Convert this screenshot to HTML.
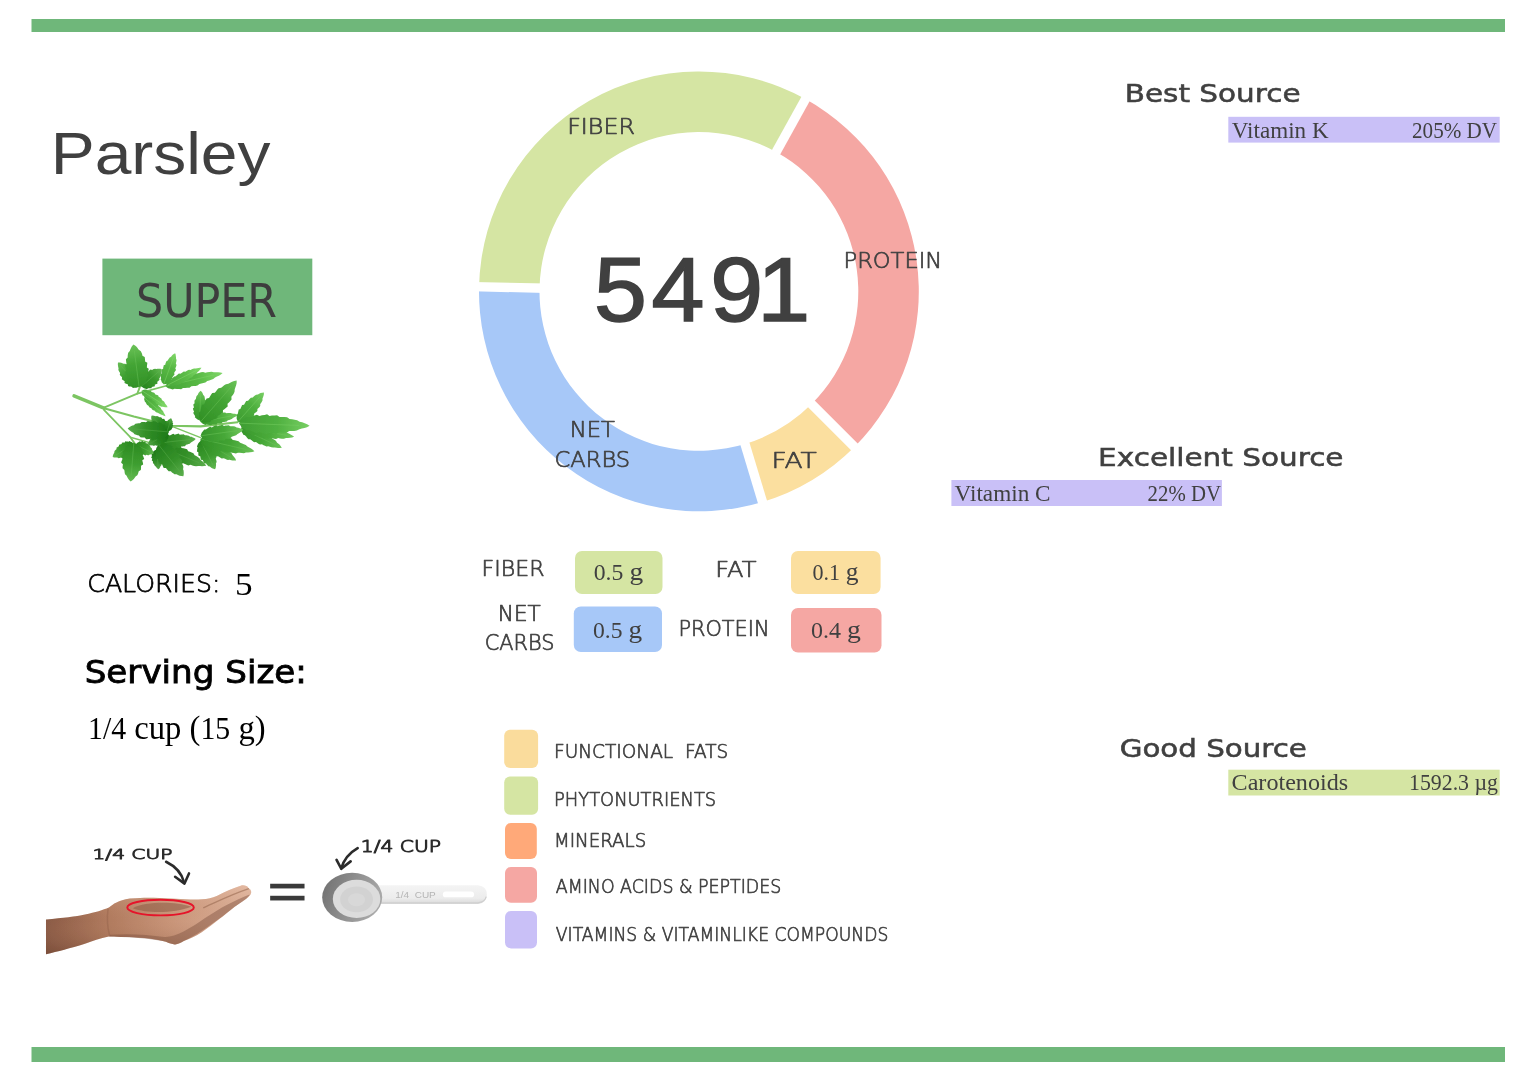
<!DOCTYPE html>
<html lang="en"><head><meta charset="utf-8"><title>Parsley</title>
<style>
html,body{margin:0;padding:0;background:#fff;}
body{width:1536px;height:1081px;overflow:hidden;position:relative;}
svg{position:absolute;left:0;top:0;display:block;}
</style></head><body>
<svg width="1536" height="1081" viewBox="0 0 1536 1081">
<defs>
<filter id="leaf" x="55" y="330" width="280" height="170" filterUnits="userSpaceOnUse"><feGaussianBlur stdDeviation="0.45"/></filter>
<filter id="soft" x="30" y="820" width="480" height="150" filterUnits="userSpaceOnUse"><feGaussianBlur stdDeviation="0.6"/></filter>
<linearGradient id="skinv" x1="0" y1="0" x2="0" y2="1"><stop offset="0" stop-color="#f0c8b0" stop-opacity="0.35"/><stop offset="0.5" stop-color="#c08a6a" stop-opacity="0"/><stop offset="1" stop-color="#5a3424" stop-opacity="0.35"/></linearGradient>
<linearGradient id="skin" x1="0" y1="0" x2="1" y2="0">
<stop offset="0" stop-color="#8a5a45"/><stop offset="0.3" stop-color="#b07a5e"/><stop offset="0.6" stop-color="#c89478"/><stop offset="1" stop-color="#ddb29b"/>
</linearGradient>
<linearGradient id="handle" x1="0" y1="0" x2="0" y2="1">
<stop offset="0" stop-color="#f4f4f4"/><stop offset="0.7" stop-color="#ececec"/><stop offset="1" stop-color="#d8d8d8"/>
</linearGradient>
<linearGradient id="cupo" x1="0" y1="0" x2="1" y2="0.3">
<stop offset="0" stop-color="#6e6e6e"/><stop offset="0.5" stop-color="#8c8c8c"/><stop offset="1" stop-color="#a8a8a8"/>
</linearGradient>
</defs>
<rect width="1536" height="1081" fill="#fff"/>
<rect x="31.5" y="19" width="1473.5" height="13.0" fill="#6FB77A" rx="0"/>
<rect x="31.5" y="1047" width="1473.5" height="15.0" fill="#6FB77A" rx="0"/>
<rect x="102.4" y="258.6" width="209.9" height="76.6" fill="#6FB77A" rx="0"/>
<rect x="575" y="551" width="87.5" height="43.0" fill="#D5E5A3" rx="7"/>
<rect x="573.8" y="606.5" width="88.2" height="45.5" fill="#A7C8F8" rx="7"/>
<rect x="791" y="551" width="89.6" height="43.0" fill="#FBDF9F" rx="7"/>
<rect x="791" y="608" width="90.5" height="44.5" fill="#F5A7A3" rx="7"/>
<rect x="504.2" y="729.7" width="33.9" height="38.3" fill="#FADC9C" rx="6"/>
<rect x="504.2" y="776.4" width="33.9" height="38.3" fill="#D5E5A3" rx="6"/>
<rect x="505" y="823" width="31.8" height="36.0" fill="#FFA979" rx="6"/>
<rect x="505" y="867" width="32.0" height="35.8" fill="#F5A7A3" rx="6"/>
<rect x="505" y="911" width="32.0" height="37.4" fill="#C9C0F7" rx="6"/>
<rect x="1228.3" y="116.8" width="271.4" height="25.8" fill="#C9C0F7" rx="0"/>
<rect x="951.4" y="480" width="270.5" height="26.0" fill="#C9C0F7" rx="0"/>
<rect x="1228.3" y="769.7" width="271.4" height="25.8" fill="#D5E5A3" rx="0"/>
<path d="M805.51,99.07 A219.9,219.9 0 0 1 854.39,446.89 L811.61,404.11 A159.4,159.4 0 0 0 776.18,151.99 Z" fill="#F5A7A3"/>
<path d="M854.39,446.89 A219.9,219.9 0 0 1 762.46,501.91 L744.97,444.00 A159.4,159.4 0 0 0 811.61,404.11 Z" fill="#FBDF9F"/>
<path d="M762.46,501.91 A219.9,219.9 0 0 1 479.05,286.79 L539.53,288.06 A159.4,159.4 0 0 0 744.97,444.00 Z" fill="#A7C8F8"/>
<path d="M479.05,286.79 A219.9,219.9 0 0 1 805.51,99.07 L776.18,151.99 A159.4,159.4 0 0 0 539.53,288.06 Z" fill="#D5E5A3"/>
<line x1="773.27" y1="157.23" x2="808.42" y2="93.82" stroke="#fff" stroke-width="9.4"/>
<line x1="807.37" y1="399.87" x2="858.64" y2="451.14" stroke="#fff" stroke-width="9.4"/>
<line x1="743.24" y1="438.25" x2="764.19" y2="507.66" stroke="#fff" stroke-width="9.4"/>
<line x1="545.53" y1="288.19" x2="473.05" y2="286.67" stroke="#fff" stroke-width="9.4"/>

<g filter="url(#leaf)"><g transform="translate(60,330) scale(0.17578)">
<g stroke="#7CC562" fill="none" stroke-linecap="round" stroke-linejoin="round">
<path d="M80,375 L250,445" stroke-width="20"/>
<path d="M250,445 L420,492 L630,545 L800,548 L1010,525" stroke-width="12"/>
<path d="M250,442 L440,362 L455,322" stroke-width="11"/>
<path d="M440,362 L600,318" stroke-width="9"/>
<path d="M250,455 L400,610 L425,645" stroke-width="10"/>
<path d="M400,610 L560,655" stroke-width="8"/>
<path d="M630,545 L800,612" stroke-width="8"/>
</g>
<linearGradient id="lf1" gradientUnits="userSpaceOnUse" x1="600" y1="320" x2="925" y2="245"><stop offset="0" stop-color="#45a436"/><stop offset="0.55" stop-color="#57B844"/><stop offset="1" stop-color="#7fd668"/></linearGradient><polygon points="600,320 615,331 628,334 641,338 652,334 665,335 677,336 689,337 700,330 712,330 724,329 737,329 747,320 759,319 771,318 782,316 793,307 804,305 816,302 827,299 838,290 849,287 860,283 872,279 882,270 893,265 904,260 915,253 925,245 925,245 912,242 900,241 887,241 875,241 862,238 850,239 838,241 827,243 814,239 802,241 790,244 779,247 766,244 754,247 743,251 732,255 719,252 708,257 697,262 686,267 673,266 662,271 651,278 641,284 629,286 619,295 608,304 600,320" fill="url(#lf1)"/><line x1="600" y1="320" x2="876" y2="256" stroke="#7fd668" stroke-width="5" opacity="0.55"/>
<linearGradient id="lf2" gradientUnits="userSpaceOnUse" x1="615" y1="312" x2="805" y2="215"><stop offset="0" stop-color="#4aa83a"/><stop offset="0.55" stop-color="#5CBC48"/><stop offset="1" stop-color="#84da6c"/></linearGradient><polygon points="615,312 627,318 635,318 644,319 651,315 659,314 667,313 675,312 680,305 688,304 695,302 703,300 708,292 715,290 722,287 729,284 734,277 741,273 748,270 754,266 759,259 765,255 772,251 778,246 783,239 789,234 795,228 800,222 805,215 805,215 796,215 788,216 780,217 773,219 764,219 757,221 750,224 743,227 734,226 727,229 720,233 713,237 704,236 698,240 692,244 685,249 676,248 670,253 664,258 659,263 650,264 645,269 639,275 634,281 626,284 622,292 617,299 615,312" fill="url(#lf2)"/><line x1="615" y1="312" x2="776" y2="230" stroke="#84da6c" stroke-width="5" opacity="0.55"/>
<linearGradient id="lf3" gradientUnits="userSpaceOnUse" x1="590" y1="308" x2="655" y2="132"><stop offset="0" stop-color="#46a537"/><stop offset="0.55" stop-color="#58B945"/><stop offset="1" stop-color="#80d769"/></linearGradient><polygon points="590,308 606,307 613,302 622,298 623,292 629,287 635,282 641,277 639,269 644,263 648,258 652,252 649,244 653,238 656,233 660,227 656,218 659,212 661,206 663,199 659,191 661,184 662,178 663,171 660,162 660,155 659,148 658,140 655,132 655,132 647,136 641,141 636,146 632,152 624,156 620,162 616,168 613,174 605,178 603,184 600,190 599,197 590,201 589,207 587,214 587,221 579,225 578,232 578,239 578,247 572,251 573,259 574,266 575,274 572,280 576,288 579,297 590,308" fill="url(#lf3)"/><line x1="590" y1="308" x2="645" y2="158" stroke="#80d769" stroke-width="5" opacity="0.55"/>
<linearGradient id="lf4" gradientUnits="userSpaceOnUse" x1="465" y1="345" x2="612" y2="440"><stop offset="0" stop-color="#4eab3e"/><stop offset="0.55" stop-color="#60BF4C"/><stop offset="1" stop-color="#88dd70"/></linearGradient><polygon points="465,345 465,357 467,364 470,372 476,374 479,380 483,386 487,391 494,392 498,397 503,402 507,407 515,406 519,411 524,415 529,419 537,418 542,422 547,425 552,429 560,428 566,431 571,434 577,436 585,436 591,438 598,439 604,440 612,440 612,440 609,433 605,427 601,422 597,417 594,410 590,406 585,402 580,398 577,390 572,387 567,383 561,380 559,373 553,370 547,368 541,365 538,358 532,356 526,354 520,352 516,346 510,345 503,344 496,343 491,339 484,339 476,340 465,345" fill="url(#lf4)"/><line x1="465" y1="345" x2="590" y2="426" stroke="#88dd70" stroke-width="5" opacity="0.55"/>
<linearGradient id="lf5" gradientUnits="userSpaceOnUse" x1="480" y1="385" x2="600" y2="490"><stop offset="0" stop-color="#48a639"/><stop offset="0.55" stop-color="#5ABA47"/><stop offset="1" stop-color="#82d86b"/></linearGradient><polygon points="480,385 479,395 481,401 483,408 487,411 490,417 493,422 496,427 502,429 505,434 509,439 512,443 519,444 522,449 526,453 530,457 537,458 541,462 545,466 550,470 556,471 561,474 566,477 571,480 577,482 582,484 588,487 594,489 600,490 600,490 598,484 595,478 592,473 589,468 587,462 583,458 579,453 575,449 573,443 569,439 565,435 560,432 558,425 554,422 549,419 544,416 542,409 537,406 532,404 527,401 524,395 518,393 513,391 507,389 503,385 496,384 490,383 480,385" fill="url(#lf5)"/><line x1="480" y1="385" x2="582" y2="474" stroke="#82d86b" stroke-width="5" opacity="0.55"/>
<linearGradient id="lf6" gradientUnits="userSpaceOnUse" x1="452" y1="322" x2="330" y2="185"><stop offset="0" stop-color="#2d8b23"/><stop offset="0.55" stop-color="#3F9F31"/><stop offset="1" stop-color="#67bd55"/></linearGradient><polygon points="452,322 461,305 462,295 464,285 459,281 458,273 457,265 456,257 447,256 446,249 444,242 441,235 431,235 428,229 425,223 422,217 411,218 407,213 403,208 398,203 388,204 383,199 377,195 371,192 362,192 355,189 348,187 340,185 330,185 330,185 329,195 330,203 331,210 333,217 332,227 335,233 338,239 342,245 340,255 344,260 349,265 353,269 352,280 357,284 362,288 368,291 367,301 373,304 380,307 387,310 387,319 394,321 402,322 410,324 414,330 424,329 434,329 452,322" fill="url(#lf6)"/><line x1="452" y1="322" x2="348" y2="206" stroke="#67bd55" stroke-width="5" opacity="0.55"/>
<linearGradient id="lf7" gradientUnits="userSpaceOnUse" x1="462" y1="322" x2="578" y2="222"><stop offset="0" stop-color="#28851f"/><stop offset="0.55" stop-color="#3A992D"/><stop offset="1" stop-color="#62b751"/></linearGradient><polygon points="462,322 478,332 487,334 496,337 500,332 507,332 514,332 521,332 522,324 528,323 534,322 540,320 539,311 545,309 550,307 555,304 553,294 558,291 562,288 566,284 565,274 569,270 572,265 574,260 574,251 576,245 578,238 579,231 578,222 578,222 569,220 562,220 555,221 549,222 540,220 535,222 529,224 525,227 515,225 511,228 507,232 503,236 494,233 490,237 487,242 484,247 475,245 473,251 471,257 469,263 461,262 459,269 458,276 457,283 452,286 454,296 454,305 462,322" fill="url(#lf7)"/><line x1="462" y1="322" x2="561" y2="237" stroke="#62b751" stroke-width="5" opacity="0.55"/>
<linearGradient id="lf8" gradientUnits="userSpaceOnUse" x1="450" y1="325" x2="418" y2="82"><stop offset="0" stop-color="#329127"/><stop offset="0.55" stop-color="#44A535"/><stop offset="1" stop-color="#6cc359"/></linearGradient><polygon points="450,325 473,313 482,303 493,293 490,284 495,275 500,265 505,256 496,248 500,239 503,230 505,221 494,213 495,204 496,195 497,186 484,179 484,170 483,162 482,153 469,146 467,137 464,129 460,121 448,113 443,105 437,97 429,89 418,82 418,82 409,92 404,102 400,111 397,120 388,130 386,139 385,148 385,157 375,167 376,176 377,185 379,193 369,203 372,212 375,220 379,228 370,238 375,247 380,255 385,263 379,273 386,280 393,288 401,296 401,305 413,312 424,320 450,325" fill="url(#lf8)"/><line x1="450" y1="325" x2="423" y2="118" stroke="#6cc359" stroke-width="5" opacity="0.55"/>
<linearGradient id="lf9" gradientUnits="userSpaceOnUse" x1="795" y1="515" x2="800" y2="345"><stop offset="0" stop-color="#36952b"/><stop offset="0.55" stop-color="#48A939"/><stop offset="1" stop-color="#70c75d"/></linearGradient><polygon points="795,515 810,509 816,503 824,498 823,492 827,486 831,480 835,474 830,467 833,461 836,455 838,449 832,443 834,437 836,431 837,425 830,419 831,413 831,407 831,401 824,394 824,388 823,382 821,376 815,370 813,364 810,357 806,351 800,345 800,345 794,351 789,357 786,363 784,369 777,375 775,381 774,387 773,393 766,399 765,405 765,411 766,417 759,423 759,429 761,435 762,441 756,447 758,453 760,459 763,465 758,471 761,478 765,484 769,490 767,496 774,502 780,508 795,515" fill="url(#lf9)"/><line x1="795" y1="515" x2="799" y2="370" stroke="#70c75d" stroke-width="5" opacity="0.55"/>
<linearGradient id="lf10" gradientUnits="userSpaceOnUse" x1="800" y1="522" x2="1012" y2="482"><stop offset="0" stop-color="#3a992e"/><stop offset="0.55" stop-color="#4CAD3C"/><stop offset="1" stop-color="#74cb60"/></linearGradient><polygon points="800,522 810,532 818,536 827,540 834,538 842,539 851,541 859,542 866,537 874,538 882,538 889,539 896,532 904,532 912,532 919,531 926,524 934,523 941,522 949,520 955,514 963,512 970,509 977,506 984,500 991,497 998,493 1005,488 1012,482 1012,482 1004,479 995,477 987,476 979,475 971,472 963,472 955,472 948,473 939,469 931,470 924,472 916,474 908,470 900,472 893,475 886,477 877,474 870,477 863,480 856,484 847,482 840,486 833,490 826,495 819,496 812,503 805,509 800,522" fill="url(#lf10)"/><line x1="800" y1="522" x2="980" y2="488" stroke="#74cb60" stroke-width="5" opacity="0.55"/>
<linearGradient id="lf11" gradientUnits="userSpaceOnUse" x1="800" y1="522" x2="1005" y2="288"><stop offset="0" stop-color="#319026"/><stop offset="0.55" stop-color="#43A434"/><stop offset="1" stop-color="#6bc258"/></linearGradient><polygon points="800,522 824,528 839,526 854,525 860,515 872,511 883,507 895,502 897,489 907,483 917,477 927,471 927,456 937,450 945,443 954,435 953,420 961,412 969,404 976,395 975,380 982,371 988,362 993,351 994,337 998,326 1002,315 1005,302 1005,288 1005,288 991,290 979,295 968,300 958,306 944,308 934,315 926,322 917,329 902,331 895,339 888,348 881,357 866,358 860,367 854,377 848,387 834,389 829,400 825,411 820,422 808,425 804,437 801,449 799,462 790,469 791,484 790,499 800,522" fill="url(#lf11)"/><line x1="800" y1="522" x2="974" y2="323" stroke="#6bc258" stroke-width="5" opacity="0.55"/>
<linearGradient id="lf12" gradientUnits="userSpaceOnUse" x1="1012" y1="522" x2="1160" y2="355"><stop offset="0" stop-color="#3d9c31"/><stop offset="0.55" stop-color="#4FB03F"/><stop offset="1" stop-color="#77ce63"/></linearGradient><polygon points="1012,522 1030,527 1040,525 1051,525 1055,518 1064,515 1073,512 1081,508 1082,499 1090,495 1097,491 1104,487 1104,476 1111,471 1117,466 1123,461 1123,450 1129,444 1134,439 1139,432 1139,421 1144,415 1148,408 1152,401 1152,390 1155,383 1158,374 1160,365 1160,355 1160,355 1150,357 1141,359 1133,363 1126,367 1116,369 1109,373 1102,379 1097,384 1086,385 1080,391 1075,397 1070,403 1059,404 1055,411 1051,418 1047,425 1036,426 1033,434 1029,442 1026,450 1017,452 1015,461 1013,469 1011,478 1005,484 1005,495 1005,505 1012,522" fill="url(#lf12)"/><line x1="1012" y1="522" x2="1138" y2="380" stroke="#77ce63" stroke-width="5" opacity="0.55"/>
<linearGradient id="lf13" gradientUnits="userSpaceOnUse" x1="1030" y1="560" x2="1262" y2="670"><stop offset="0" stop-color="#349329"/><stop offset="0.55" stop-color="#46A737"/><stop offset="1" stop-color="#6ec55b"/></linearGradient><polygon points="1030,560 1032,577 1038,586 1043,596 1052,599 1059,606 1065,614 1072,621 1082,621 1090,627 1097,633 1104,639 1115,637 1123,643 1131,648 1138,652 1149,650 1158,655 1166,659 1174,663 1185,661 1194,664 1203,667 1212,669 1222,668 1232,670 1241,671 1251,671 1262,670 1262,670 1256,661 1250,653 1243,647 1235,641 1229,632 1222,626 1214,621 1206,616 1201,607 1192,603 1184,599 1176,595 1170,585 1161,582 1153,580 1144,577 1138,568 1129,566 1119,564 1110,562 1104,554 1094,553 1084,553 1074,553 1066,548 1055,550 1044,551 1030,560" fill="url(#lf13)"/><line x1="1030" y1="560" x2="1227" y2="654" stroke="#6ec55b" stroke-width="5" opacity="0.55"/>
<linearGradient id="lf14" gradientUnits="userSpaceOnUse" x1="1030" y1="550" x2="1332" y2="608"><stop offset="0" stop-color="#38972c"/><stop offset="0.55" stop-color="#4AAB3A"/><stop offset="1" stop-color="#72c95e"/></linearGradient><polygon points="1030,550 1038,566 1048,574 1057,582 1068,583 1078,589 1088,595 1099,601 1110,598 1121,603 1131,607 1141,611 1153,608 1164,611 1174,614 1185,618 1197,613 1208,616 1218,618 1229,620 1241,615 1252,617 1263,618 1274,618 1286,614 1297,614 1309,613 1320,612 1332,608 1332,608 1322,600 1312,594 1302,589 1292,585 1282,577 1272,573 1261,570 1250,567 1241,559 1230,557 1219,555 1208,553 1199,545 1188,544 1177,543 1166,542 1156,534 1145,534 1134,534 1122,535 1112,528 1101,530 1090,531 1078,533 1067,530 1055,534 1043,538 1030,550" fill="url(#lf14)"/><line x1="1030" y1="550" x2="1287" y2="599" stroke="#72c95e" stroke-width="5" opacity="0.55"/>
<linearGradient id="lf15" gradientUnits="userSpaceOnUse" x1="1018" y1="530" x2="1420" y2="545"><stop offset="0" stop-color="#3e9d32"/><stop offset="0.55" stop-color="#50B140"/><stop offset="1" stop-color="#78cf64"/></linearGradient><polygon points="1018,530 1032,551 1046,560 1060,570 1074,569 1088,575 1102,580 1117,586 1131,580 1145,584 1160,588 1174,592 1189,584 1203,586 1217,589 1231,591 1246,582 1260,583 1275,584 1289,584 1304,575 1318,575 1333,574 1347,572 1362,564 1376,561 1391,558 1405,553 1420,545 1420,545 1406,536 1392,530 1378,525 1363,522 1349,513 1335,510 1321,508 1306,506 1292,496 1278,495 1264,495 1249,495 1235,485 1221,486 1206,487 1192,489 1178,480 1164,483 1149,485 1135,489 1120,482 1106,486 1091,491 1077,496 1062,494 1048,503 1033,510 1018,530" fill="url(#lf15)"/><line x1="1018" y1="530" x2="1360" y2="543" stroke="#78cf64" stroke-width="5" opacity="0.55"/>
<linearGradient id="lf16" gradientUnits="userSpaceOnUse" x1="800" y1="630" x2="882" y2="792"><stop offset="0" stop-color="#298620"/><stop offset="0.55" stop-color="#3B9A2E"/><stop offset="1" stop-color="#63b852"/></linearGradient><polygon points="800,630 787,644 783,653 779,663 783,668 781,676 780,684 779,691 787,695 787,702 787,709 788,716 798,718 799,725 800,732 802,738 812,740 815,746 818,752 821,758 831,760 835,765 839,770 844,775 853,777 859,782 865,786 873,790 882,792 882,792 886,783 887,775 888,767 887,760 891,751 890,744 888,738 886,732 890,722 888,716 885,711 881,705 886,696 882,690 877,685 873,680 876,671 871,667 866,662 860,658 862,650 855,646 848,642 841,639 839,632 828,630 819,628 800,630" fill="url(#lf16)"/><line x1="800" y1="630" x2="870" y2="768" stroke="#63b852" stroke-width="5" opacity="0.55"/>
<linearGradient id="lf17" gradientUnits="userSpaceOnUse" x1="800" y1="622" x2="1002" y2="742"><stop offset="0" stop-color="#2d8b23"/><stop offset="0.55" stop-color="#3F9F31"/><stop offset="1" stop-color="#67bd55"/></linearGradient><polygon points="800,622 800,639 804,649 807,659 815,662 820,670 825,678 831,685 840,685 846,692 852,699 858,705 869,704 875,709 882,715 888,720 899,718 906,723 913,727 920,731 931,730 939,733 947,737 955,739 965,738 974,741 982,742 992,743 1002,742 1002,742 998,732 993,725 987,718 981,711 977,702 971,696 964,691 957,686 954,675 947,671 939,667 932,663 928,653 920,649 913,646 904,643 900,634 892,631 884,629 875,627 870,619 861,618 852,617 843,616 836,611 825,612 815,613 800,622" fill="url(#lf17)"/><line x1="800" y1="622" x2="972" y2="724" stroke="#67bd55" stroke-width="5" opacity="0.55"/>
<linearGradient id="lf18" gradientUnits="userSpaceOnUse" x1="800" y1="620" x2="1106" y2="690"><stop offset="0" stop-color="#319026"/><stop offset="0.55" stop-color="#43A434"/><stop offset="1" stop-color="#6bc258"/></linearGradient><polygon points="800,620 807,638 817,648 826,658 837,659 847,666 857,673 867,679 879,676 889,682 900,687 910,692 923,688 933,692 944,696 954,699 967,694 978,698 989,700 1000,702 1012,698 1023,699 1035,700 1046,701 1058,697 1070,697 1082,696 1094,694 1106,690 1106,690 1097,681 1087,674 1076,668 1066,663 1057,654 1046,650 1036,646 1025,642 1016,633 1005,630 994,627 983,626 974,616 962,614 951,613 940,612 930,603 919,603 907,603 896,604 886,596 874,597 862,599 850,601 840,597 827,602 815,607 800,620" fill="url(#lf18)"/><line x1="800" y1="620" x2="1060" y2="680" stroke="#6bc258" stroke-width="5" opacity="0.55"/>
<linearGradient id="lf19" gradientUnits="userSpaceOnUse" x1="800" y1="602" x2="1042" y2="568"><stop offset="0" stop-color="#35942a"/><stop offset="0.55" stop-color="#47A838"/><stop offset="1" stop-color="#6fc65c"/></linearGradient><polygon points="800,602 811,618 821,624 830,630 839,628 848,631 857,635 867,637 875,631 884,633 893,634 902,636 909,627 918,628 927,628 936,628 943,619 952,619 961,618 969,616 977,607 985,605 994,602 1002,599 1010,591 1018,587 1026,582 1034,576 1042,568 1042,568 1032,562 1023,559 1014,556 1005,555 995,549 986,548 978,548 969,548 959,542 950,543 942,544 933,546 923,539 915,542 906,544 898,548 888,542 880,545 872,549 864,554 854,550 846,555 838,560 830,566 821,566 814,575 806,584 800,602" fill="url(#lf19)"/><line x1="800" y1="602" x2="1006" y2="573" stroke="#6fc65c" stroke-width="5" opacity="0.55"/>
<linearGradient id="lf20" gradientUnits="userSpaceOnUse" x1="550" y1="680" x2="560" y2="792"><stop offset="0" stop-color="#1d7617"/><stop offset="0.55" stop-color="#2F8A25"/><stop offset="1" stop-color="#57a849"/></linearGradient><polygon points="550,680 538,685 533,690 527,694 529,698 525,702 522,707 520,711 524,715 522,719 520,723 519,727 525,731 524,735 523,739 522,743 529,746 528,750 529,754 529,758 535,762 536,766 538,770 540,774 545,777 548,781 551,785 554,788 560,792 560,792 565,788 568,783 570,779 572,775 577,770 578,766 579,762 579,758 584,754 584,750 584,746 583,742 588,737 587,733 586,729 584,725 589,721 587,717 584,713 582,709 585,705 582,701 578,698 574,694 575,690 569,686 563,683 550,680" fill="url(#lf20)"/><line x1="550" y1="680" x2="558" y2="775" stroke="#57a849" stroke-width="5" opacity="0.55"/>
<linearGradient id="lf21" gradientUnits="userSpaceOnUse" x1="560" y1="660" x2="832" y2="772"><stop offset="0" stop-color="#217b1a"/><stop offset="0.55" stop-color="#338F28"/><stop offset="1" stop-color="#5bad4c"/></linearGradient><polygon points="560,660 563,680 570,690 577,702 587,705 595,713 603,721 611,729 623,728 631,735 640,742 649,748 661,745 670,751 679,756 689,762 701,758 711,763 720,767 730,771 743,767 753,771 763,773 774,775 786,773 797,774 808,775 820,774 832,772 832,772 825,762 817,753 809,746 800,739 793,729 784,723 775,717 766,713 759,701 749,697 739,693 729,690 723,678 713,676 702,673 692,671 685,660 674,658 663,657 653,656 645,647 634,647 622,647 611,647 601,642 589,646 576,648 560,660" fill="url(#lf21)"/><line x1="560" y1="660" x2="791" y2="755" stroke="#5bad4c" stroke-width="5" opacity="0.55"/>
<linearGradient id="lf22" gradientUnits="userSpaceOnUse" x1="570" y1="642" x2="772" y2="620"><stop offset="0" stop-color="#25801d"/><stop offset="0.55" stop-color="#37942B"/><stop offset="1" stop-color="#5fb24f"/></linearGradient><polygon points="570,642 579,657 587,663 595,669 602,667 610,671 617,674 625,677 632,671 639,673 647,675 654,677 661,669 668,670 675,671 683,671 689,663 696,663 704,662 711,661 717,653 724,652 731,649 738,647 745,640 752,636 759,632 765,627 772,620 772,620 764,614 756,611 749,608 741,607 733,601 726,600 719,599 711,599 703,593 696,594 689,595 682,596 674,589 667,591 660,593 653,596 645,590 638,593 631,597 624,600 616,596 609,601 603,606 596,611 588,610 582,618 576,626 570,642" fill="url(#lf22)"/><line x1="570" y1="642" x2="742" y2="623" stroke="#5fb24f" stroke-width="5" opacity="0.55"/>
<linearGradient id="lf23" gradientUnits="userSpaceOnUse" x1="560" y1="652" x2="702" y2="832"><stop offset="0" stop-color="#237e1c"/><stop offset="0.55" stop-color="#35922A"/><stop offset="1" stop-color="#5db04e"/></linearGradient><polygon points="560,652 548,672 545,685 542,697 548,703 549,713 549,723 550,733 561,735 562,744 565,753 567,761 580,762 583,770 586,777 590,785 603,785 608,792 613,798 618,804 631,804 637,810 644,815 651,820 663,821 671,825 680,829 690,831 702,832 702,832 704,820 704,810 703,800 700,792 702,779 700,771 696,764 692,757 695,744 690,737 685,731 679,725 682,712 676,707 669,701 662,697 664,684 657,680 649,676 640,672 641,661 632,658 622,655 612,653 608,645 595,645 583,645 560,652" fill="url(#lf23)"/><line x1="560" y1="652" x2="681" y2="805" stroke="#5db04e" stroke-width="5" opacity="0.55"/>
<linearGradient id="lf24" gradientUnits="userSpaceOnUse" x1="612" y1="585" x2="520" y2="488"><stop offset="0" stop-color="#1c7816"/><stop offset="0.55" stop-color="#2E8C24"/><stop offset="1" stop-color="#56aa48"/></linearGradient><polygon points="612,585 620,571 622,563 624,554 619,552 619,545 619,539 618,533 612,533 610,527 609,522 607,517 599,518 597,513 595,509 592,505 584,506 581,503 578,499 574,496 566,497 562,494 558,492 553,489 545,490 540,489 534,488 528,487 520,488 520,488 519,496 519,502 520,508 521,513 520,521 522,526 524,530 527,534 525,543 528,546 531,550 535,553 533,561 537,564 541,566 546,569 544,577 549,579 555,580 560,582 560,589 566,590 572,590 578,591 581,595 589,593 597,592 612,585" fill="url(#lf24)"/><line x1="612" y1="585" x2="534" y2="503" stroke="#56aa48" stroke-width="5" opacity="0.55"/>
<linearGradient id="lf25" gradientUnits="userSpaceOnUse" x1="615" y1="590" x2="500" y2="652"><stop offset="0" stop-color="#197414"/><stop offset="0.55" stop-color="#2B8822"/><stop offset="1" stop-color="#53a646"/></linearGradient><polygon points="615,590 604,580 597,577 590,573 586,576 580,575 575,574 569,573 567,579 562,579 556,579 551,580 550,587 545,588 540,589 536,591 535,599 530,600 526,602 522,605 521,613 517,616 514,619 511,623 509,630 506,634 504,639 501,645 500,652 500,652 507,655 513,656 518,657 524,656 530,659 535,659 540,657 544,656 552,659 556,657 560,655 564,652 571,656 575,653 578,649 582,646 588,649 592,645 595,641 597,636 604,638 606,633 609,627 611,621 615,620 616,612 618,605 615,590" fill="url(#lf25)"/><line x1="615" y1="590" x2="517" y2="643" stroke="#53a646" stroke-width="5" opacity="0.55"/>
<linearGradient id="lf26" gradientUnits="userSpaceOnUse" x1="620" y1="580" x2="385" y2="560"><stop offset="0" stop-color="#1f7a19"/><stop offset="0.55" stop-color="#318E27"/><stop offset="1" stop-color="#59ac4b"/></linearGradient><polygon points="620,580 613,559 606,550 598,540 590,541 582,534 574,529 566,523 557,529 549,524 541,520 532,517 523,524 515,521 507,519 499,517 489,525 481,524 473,523 464,523 455,531 447,531 438,532 429,534 420,542 412,544 403,548 394,553 385,560 385,560 393,569 401,575 409,580 417,584 424,593 433,596 441,599 449,600 457,610 465,611 474,612 482,612 490,622 498,621 507,620 515,619 523,628 532,626 540,623 549,620 557,627 566,623 574,618 583,613 592,616 601,607 610,599 620,580" fill="url(#lf26)"/><line x1="620" y1="580" x2="420" y2="563" stroke="#59ac4b" stroke-width="5" opacity="0.55"/>
<linearGradient id="lf27" gradientUnits="userSpaceOnUse" x1="610" y1="575" x2="632" y2="502"><stop offset="0" stop-color="#1c7816"/><stop offset="0.55" stop-color="#2E8C24"/><stop offset="1" stop-color="#56aa48"/></linearGradient><polygon points="610,575 619,575 624,573 628,572 629,569 632,567 635,565 638,563 636,560 638,558 640,556 642,553 640,550 641,547 643,545 644,543 641,539 642,536 643,534 644,531 640,527 641,525 641,522 641,519 638,515 637,512 636,509 635,506 632,502 632,502 628,504 625,505 622,508 620,510 615,511 614,514 612,516 611,518 606,520 605,522 605,525 604,528 599,529 599,532 599,535 599,538 595,539 595,542 596,545 597,548 593,550 595,553 596,557 598,560 596,562 599,566 602,570 610,575" fill="url(#lf27)"/><line x1="610" y1="575" x2="629" y2="513" stroke="#56aa48" stroke-width="5" opacity="0.55"/>
<linearGradient id="lf28" gradientUnits="userSpaceOnUse" x1="422" y1="650" x2="300" y2="722"><stop offset="0" stop-color="#28861e"/><stop offset="0.55" stop-color="#3A9A2C"/><stop offset="1" stop-color="#62b850"/></linearGradient><polygon points="422,650 410,639 402,636 394,632 390,636 384,635 377,634 371,633 369,640 363,640 358,640 352,641 351,649 346,650 341,652 336,653 335,662 330,664 326,667 322,669 321,678 317,681 313,685 310,689 309,697 306,702 303,708 301,714 300,722 300,722 308,725 314,726 320,726 326,726 333,729 339,728 344,727 349,725 357,728 361,726 365,723 369,720 377,724 381,720 385,717 388,713 396,716 399,711 402,706 405,701 412,703 415,697 417,691 419,685 424,683 425,674 426,666 422,650" fill="url(#lf28)"/><line x1="422" y1="650" x2="318" y2="711" stroke="#62b850" stroke-width="5" opacity="0.55"/>
<linearGradient id="lf29" gradientUnits="userSpaceOnUse" x1="430" y1="652" x2="532" y2="702"><stop offset="0" stop-color="#2a8820"/><stop offset="0.55" stop-color="#3C9C2E"/><stop offset="1" stop-color="#64ba52"/></linearGradient><polygon points="430,652 427,667 428,674 429,681 433,682 435,688 437,693 439,697 445,695 447,699 450,703 453,707 459,703 462,707 465,709 468,712 475,708 478,710 482,712 486,714 492,710 496,711 500,712 505,712 511,708 515,708 520,707 526,705 532,702 532,702 531,695 529,690 527,685 524,681 523,674 520,671 517,668 514,666 513,658 509,656 506,654 502,653 501,645 497,645 493,644 488,644 487,636 483,636 478,637 473,637 472,632 467,633 461,634 456,636 453,633 446,638 440,641 430,652" fill="url(#lf29)"/><line x1="430" y1="652" x2="517" y2="694" stroke="#64ba52" stroke-width="5" opacity="0.55"/>
<linearGradient id="lf30" gradientUnits="userSpaceOnUse" x1="420" y1="642" x2="402" y2="862"><stop offset="0" stop-color="#2c8a22"/><stop offset="0.55" stop-color="#3E9E30"/><stop offset="1" stop-color="#66bc54"/></linearGradient><polygon points="420,642 396,648 385,655 373,662 374,670 367,677 360,685 354,692 361,700 356,708 351,715 347,723 356,732 353,739 350,747 348,755 358,764 357,771 356,779 356,787 366,796 367,804 368,812 370,820 379,829 383,837 387,845 393,853 402,862 402,862 412,855 420,848 425,840 430,833 440,826 444,818 446,810 448,803 460,796 461,788 461,780 461,772 473,765 472,757 470,749 468,741 479,734 476,726 473,717 469,709 477,702 472,694 467,685 461,677 463,669 452,660 443,652 420,642" fill="url(#lf30)"/><line x1="420" y1="642" x2="405" y2="829" stroke="#66bc54" stroke-width="5" opacity="0.55"/>
</g></g>


<g filter="url(#soft)"><g transform="translate(40,830) scale(0.14975)">
<path d="M40,598 C150,588 240,578 300,565 C370,550 420,535 460,518 C490,495 520,470 600,458 C680,450 720,452 760,452 C880,455 1000,468 1080,462 C1120,460 1150,452 1180,440 C1240,410 1290,388 1340,372 C1360,366 1385,372 1392,388 C1410,398 1416,418 1405,432 C1395,450 1340,485 1300,512 C1260,545 1230,570 1200,592 C1160,622 1120,655 1080,682 C1040,708 1000,725 960,742 C940,752 920,766 900,765 C870,762 850,748 820,742 C780,732 740,726 700,722 C650,718 600,716 560,715 C520,714 490,710 460,712 C400,722 350,742 300,760 C200,790 120,812 40,830 Z" fill="url(#skin)"/>
<path d="M40,598 C150,588 240,578 300,565 C370,550 420,535 460,518 C490,495 520,470 600,458 C680,450 720,452 760,452 C880,455 1000,468 1080,462 C1120,460 1150,452 1180,440 C1240,410 1290,388 1340,372 C1360,366 1385,372 1392,388 C1410,398 1416,418 1405,432 C1395,450 1340,485 1300,512 C1260,545 1230,570 1200,592 C1160,622 1120,655 1080,682 C1040,708 1000,725 960,742 C940,752 920,766 900,765 C870,762 850,748 820,742 C780,732 740,726 700,722 C650,718 600,716 560,715 C520,714 490,710 460,712 C400,722 350,742 300,760 C200,790 120,812 40,830 Z" fill="url(#skinv)"/>
<path d="M470,700 C600,690 720,700 830,715 C900,720 1000,660 1100,590 C1200,520 1300,470 1400,430 C1395,450 1340,485 1300,512 C1200,592 1080,682 960,742 C940,752 920,766 900,765 C870,762 850,748 820,742 C700,722 560,715 460,712 Z" fill="#7e5240" opacity="0.45"/>
<path d="M620,522 C700,478 900,475 1010,512 C900,555 720,560 620,522Z" fill="#8a5a44" opacity="0.55"/>
<path d="M1090,520 C1180,480 1280,430 1395,392" stroke="#9a6a52" stroke-width="9" fill="none" opacity="0.6"/>
<path d="M455,525 C445,590 450,650 465,705" stroke="#8a5a44" stroke-width="10" fill="none" opacity="0.35"/>
</g></g>
<g transform="translate(40,830) scale(0.14975)">
<ellipse cx="805" cy="518" rx="222" ry="52" fill="none" stroke="#E5142A" stroke-width="13"/>
<g fill="none" stroke="#2b2b2b" stroke-width="17" stroke-linecap="round" stroke-linejoin="round">
<path d="M842,212 Q940,260 962,350"/>
<path d="M902,312 L965,358 L995,290"/>
</g>
</g>


<g transform="translate(260,820) scale(0.15625)">
<rect x="65" y="408" width="220" height="30" fill="#3a3a3a"/>
<rect x="65" y="485" width="220" height="30" fill="#3a3a3a"/>
</g>
<g filter="url(#soft)"><g transform="translate(260,820) scale(0.15625)">
<path d="M740,418 L1395,418 Q1452,423 1452,478 Q1452,532 1395,537 L740,537 Z" fill="url(#handle)"/>
<path d="M760,530 L1395,530 Q1440,524 1448,490" stroke="#cfcfcf" stroke-width="8" fill="none"/>
<rect x="1170" y="457" width="200" height="38" rx="19" fill="#fff"/>
<ellipse cx="590" cy="495" rx="192" ry="157" fill="url(#cupo)"/>
<ellipse cx="618" cy="505" rx="152" ry="122" fill="#dcdcdc"/>
<ellipse cx="618" cy="508" rx="105" ry="82" fill="#d2d2d2"/>
<ellipse cx="618" cy="510" rx="55" ry="42" fill="#d8d8d8"/>
</g></g>
<g transform="translate(260,820) scale(0.15625)">
<g fill="none" stroke="#2b2b2b" stroke-width="17" stroke-linecap="round" stroke-linejoin="round">
<path d="M625,180 Q545,225 520,310"/>
<path d="M490,255 L520,312 L580,265"/>
</g>
</g>

<text x="50.7" y="173.5" font-size="59" font-family='"Liberation Sans",sans-serif' fill="#404040" textLength="219.8" lengthAdjust="spacingAndGlyphs" >Parsley</text>
<text x="136.0" y="316.5" font-size="46.6" font-family='"DejaVu Sans Condensed","DejaVu Sans","Liberation Sans",sans-serif' fill="#3d3d3d" textLength="141.0" lengthAdjust="spacingAndGlyphs" font-stretch="condensed">SUPER</text>
<text transform="scale(1.05,1)" x="565.7 620.5 676.5 721.2" y="321.4" font-size="90.5" font-family='"Liberation Sans",sans-serif' fill="#404040" stroke="#404040" stroke-width="1.6">5491</text>
<text x="567.1999999999999" y="133.5" font-size="21.9" font-family='"DejaVu Sans Light","DejaVu Sans","Liberation Sans",sans-serif' fill="#404040" textLength="67.8" lengthAdjust="spacingAndGlyphs"  stroke="#404040" stroke-width="0.7" stroke-linejoin="round">FIBER</text>
<text x="843.5999999999999" y="267.6" font-size="21.9" font-family='"DejaVu Sans Light","DejaVu Sans","Liberation Sans",sans-serif' fill="#404040" textLength="98.6" lengthAdjust="spacingAndGlyphs"  stroke="#404040" stroke-width="0.7" stroke-linejoin="round">PROTEIN</text>
<text x="771.5999999999999" y="467.7" font-size="21.9" font-family='"DejaVu Sans Light","DejaVu Sans","Liberation Sans",sans-serif' fill="#404040" textLength="45.2" lengthAdjust="spacingAndGlyphs"  stroke="#404040" stroke-width="0.7" stroke-linejoin="round">FAT</text>
<text x="569.6999999999999" y="436.6" font-size="21.9" font-family='"DejaVu Sans Light","DejaVu Sans","Liberation Sans",sans-serif' fill="#404040" textLength="45.2" lengthAdjust="spacingAndGlyphs"  stroke="#404040" stroke-width="0.7" stroke-linejoin="round">NET</text>
<text x="554.4" y="467.1" font-size="21.9" font-family='"DejaVu Sans Light","DejaVu Sans","Liberation Sans",sans-serif' fill="#404040" textLength="75.8" lengthAdjust="spacingAndGlyphs"  stroke="#404040" stroke-width="0.7" stroke-linejoin="round">CARBS</text>
<text x="481.6" y="576.3" font-size="21.3" font-family='"DejaVu Sans Light","DejaVu Sans","Liberation Sans",sans-serif' fill="#404040" textLength="62.9" lengthAdjust="spacingAndGlyphs"  stroke="#404040" stroke-width="0.7" stroke-linejoin="round">FIBER</text>
<text x="497.8" y="620.6" font-size="20.6" font-family='"DejaVu Sans Light","DejaVu Sans","Liberation Sans",sans-serif' fill="#404040" textLength="43.0" lengthAdjust="spacingAndGlyphs"  stroke="#404040" stroke-width="0.7" stroke-linejoin="round">NET</text>
<text x="484.7" y="649.7" font-size="20.6" font-family='"DejaVu Sans Light","DejaVu Sans","Liberation Sans",sans-serif' fill="#404040" textLength="69.8" lengthAdjust="spacingAndGlyphs"  stroke="#404040" stroke-width="0.7" stroke-linejoin="round">CARBS</text>
<text x="715.3" y="576.9" font-size="21.3" font-family='"DejaVu Sans Light","DejaVu Sans","Liberation Sans",sans-serif' fill="#404040" textLength="41.1" lengthAdjust="spacingAndGlyphs"  stroke="#404040" stroke-width="0.7" stroke-linejoin="round">FAT</text>
<text x="678.4" y="636.3" font-size="21.3" font-family='"DejaVu Sans Light","DejaVu Sans","Liberation Sans",sans-serif' fill="#404040" textLength="91.1" lengthAdjust="spacingAndGlyphs"  stroke="#404040" stroke-width="0.7" stroke-linejoin="round">PROTEIN</text>
<text x="593.7" y="580" font-size="23" font-family='"Liberation Serif",serif' fill="#404040" textLength="49.4" lengthAdjust="spacingAndGlyphs" ><tspan font-size="22.5">0.5</tspan> <tspan font-size="26">g</tspan></text>
<text x="593.0" y="637.8" font-size="23" font-family='"Liberation Serif",serif' fill="#404040" textLength="49.2" lengthAdjust="spacingAndGlyphs" ><tspan font-size="22.5">0.5</tspan> <tspan font-size="26">g</tspan></text>
<text x="812.4" y="580" font-size="23" font-family='"Liberation Serif",serif' fill="#404040" textLength="46.0" lengthAdjust="spacingAndGlyphs" ><tspan font-size="22.5">0.1</tspan> <tspan font-size="26">g</tspan></text>
<text x="810.9" y="638.4" font-size="23" font-family='"Liberation Serif",serif' fill="#404040" textLength="50.0" lengthAdjust="spacingAndGlyphs" ><tspan font-size="22.5">0.4</tspan> <tspan font-size="26">g</tspan></text>
<text x="87.3" y="592" font-size="24.7" font-family='"DejaVu Sans Light","DejaVu Sans","Liberation Sans",sans-serif' fill="#000" textLength="133.1" lengthAdjust="spacingAndGlyphs"  stroke="#000" stroke-width="0.75" stroke-linejoin="round">CALORIES:</text>
<text x="235.0" y="594.5" font-size="32" font-family='"Liberation Serif",serif' fill="#000" textLength="17.6" lengthAdjust="spacingAndGlyphs" >5</text>
<text x="84.7" y="682.7" font-size="32.1" font-family='"DejaVu Sans","Liberation Sans",sans-serif' fill="#000" textLength="222.2" lengthAdjust="spacingAndGlyphs" stroke="#000" stroke-width="0.85">Serving Size:</text>
<text x="88.0" y="739.2" font-size="31.5" font-family='"Liberation Serif",serif' fill="#000" textLength="177.6" lengthAdjust="spacingAndGlyphs" xml:space="preserve"><tspan font-size="31.5">1/4</tspan><tspan font-size="34.5"> cup (</tspan><tspan font-size="31.5">15</tspan><tspan font-size="34.5"> g)</tspan></text>
<text x="554.0" y="758.4" font-size="19.5" font-family='"DejaVu Sans Light","DejaVu Sans","Liberation Sans",sans-serif' fill="#404040" textLength="174.2" lengthAdjust="spacingAndGlyphs" xml:space="preserve" stroke="#404040" stroke-width="0.7" stroke-linejoin="round">FUNCTIONAL  FATS</text>
<text x="554.0" y="805.7" font-size="19.5" font-family='"DejaVu Sans Light","DejaVu Sans","Liberation Sans",sans-serif' fill="#404040" textLength="162.2" lengthAdjust="spacingAndGlyphs"  stroke="#404040" stroke-width="0.7" stroke-linejoin="round">PHYTONUTRIENTS</text>
<text x="554.0" y="847.3" font-size="19.5" font-family='"DejaVu Sans Light","DejaVu Sans","Liberation Sans",sans-serif' fill="#404040" textLength="92.2" lengthAdjust="spacingAndGlyphs"  stroke="#404040" stroke-width="0.7" stroke-linejoin="round">MINERALS</text>
<text x="555.8" y="893.2" font-size="19.5" font-family='"DejaVu Sans Light","DejaVu Sans","Liberation Sans",sans-serif' fill="#404040" textLength="225.5" lengthAdjust="spacingAndGlyphs"  stroke="#404040" stroke-width="0.7" stroke-linejoin="round">AMINO ACIDS &amp; PEPTIDES</text>
<text x="555.8" y="940.5" font-size="19.8" font-family='"DejaVu Sans Light","DejaVu Sans","Liberation Sans",sans-serif' fill="#404040" textLength="332.6" lengthAdjust="spacingAndGlyphs"  stroke="#404040" stroke-width="0.7" stroke-linejoin="round">VITAMINS &amp; VITAMINLIKE COMPOUNDS</text>
<text x="1124.7" y="102" font-size="25.6" font-family='"DejaVu Sans","Liberation Sans",sans-serif' fill="#404040" textLength="175.9" lengthAdjust="spacingAndGlyphs" stroke="#404040" stroke-width="0.55">Best Source</text>
<text x="1098.1000000000001" y="466.3" font-size="25.6" font-family='"DejaVu Sans","Liberation Sans",sans-serif' fill="#404040" textLength="245.4" lengthAdjust="spacingAndGlyphs" stroke="#404040" stroke-width="0.55">Excellent Source</text>
<text x="1119.7" y="757" font-size="25.6" font-family='"DejaVu Sans","Liberation Sans",sans-serif' fill="#404040" textLength="187.2" lengthAdjust="spacingAndGlyphs" stroke="#404040" stroke-width="0.55">Good Source</text>
<text x="1231.8" y="138" font-size="23.2" font-family='"Liberation Serif",serif' fill="#404040" textLength="96.8" lengthAdjust="spacingAndGlyphs" >Vitamin K</text>
<text x="1412.0" y="138" font-size="23.2" font-family='"Liberation Serif",serif' fill="#404040" textLength="85.1" lengthAdjust="spacingAndGlyphs" >205% DV</text>
<text x="954.6" y="501" font-size="23.2" font-family='"Liberation Serif",serif' fill="#404040" textLength="96.0" lengthAdjust="spacingAndGlyphs" >Vitamin C</text>
<text x="1147.6" y="501" font-size="23.2" font-family='"Liberation Serif",serif' fill="#404040" textLength="73.4" lengthAdjust="spacingAndGlyphs" >22% DV</text>
<text x="1231.6" y="790.4" font-size="23.2" font-family='"Liberation Serif",serif' fill="#404040" textLength="116.5" lengthAdjust="spacingAndGlyphs" >Carotenoids</text>
<text x="1409.0" y="790.4" font-size="23.2" font-family='"Liberation Serif",serif' fill="#404040" textLength="89.0" lengthAdjust="spacingAndGlyphs" >1592.3 µg</text>
<text x="92.5" y="859.0" font-size="14.5" font-family='"DejaVu Sans Light","DejaVu Sans","Liberation Sans",sans-serif' fill="#2b2b2b" textLength="79.9" lengthAdjust="spacingAndGlyphs"  stroke="#2b2b2b" stroke-width="1.0" stroke-linejoin="round">1/4 CUP</text>
<text x="360.8" y="852.4" font-size="15.9" font-family='"DejaVu Sans Light","DejaVu Sans","Liberation Sans",sans-serif' fill="#2b2b2b" textLength="80.3" lengthAdjust="spacingAndGlyphs"  stroke="#2b2b2b" stroke-width="1.0" stroke-linejoin="round">1/4 CUP</text>
<text x="395.2" y="897.7" font-size="9" font-family='"Liberation Sans",sans-serif' fill="#b5b5b5" textLength="40.6" lengthAdjust="spacingAndGlyphs" xml:space="preserve">1/4  CUP</text>
</svg>
</body></html>
